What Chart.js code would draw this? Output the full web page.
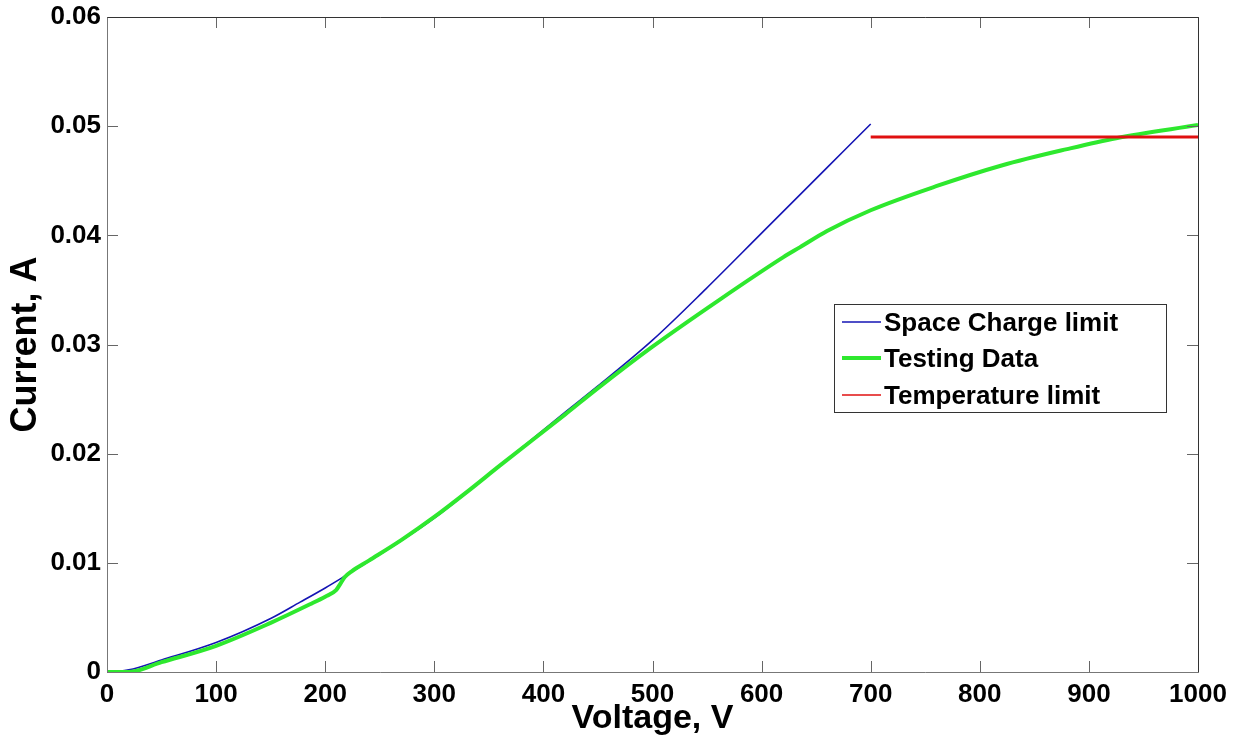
<!DOCTYPE html>
<html>
<head>
<meta charset="utf-8">
<title>Current vs Voltage</title>
<script src="https://cdn.jsdelivr.net/npm/chart.js@4.4.1/dist/chart.umd.min.js"></script>
<style>
  html, body { margin: 0; padding: 0; background: #fff; }
  canvas { display: block; }
</style>
</head>
<body>
<canvas id="ivChart" width="1238" height="742"></canvas>
<script>
// Space charge limited current (Child's law fit)
const voltageFit = [0, 20, 50, 100, 150, 177, 200, 215, 260, 300, 360, 420, 450, 500, 549, 600, 660, 700];
const currentFit = [0, 0.0002, 0.0011, 0.0027, 0.0049, 0.0064, 0.0077, 0.0086, 0.0114, 0.0141, 0.0189, 0.0238, 0.0262, 0.0304, 0.0351, 0.0402, 0.0462, 0.0502];

// measured current
const voltageTest = [0, 20, 50, 100, 150, 186, 200, 210, 214, 218, 224, 240, 270, 300, 330, 360, 420, 450, 500, 560, 620, 635, 660, 700, 760, 820, 880, 925, 1000];
const currentTest = [0, 0, 0.0009, 0.0024, 0.0045, 0.0062, 0.0069, 0.0075, 0.0081, 0.0087, 0.0092, 0.0102, 0.0121, 0.0142, 0.0165, 0.0189, 0.0236, 0.0260, 0.0298, 0.0340, 0.0380, 0.0389, 0.0404, 0.0423, 0.0445, 0.0464, 0.0479, 0.0489, 0.0501];

// emission (temperature) limit
const voltageTemp = [700, 1000];
const currentTemp = [0.049, 0.049];

const xTicks = [0, 100, 200, 300, 400, 500, 600, 700, 800, 900, 1000];
const yTicks = [0, 0.01, 0.02, 0.03, 0.04, 0.05, 0.06];

const FONT = '"Liberation Sans", Arial, sans-serif';

function toPoints(xs, ys) {
        return xs.map((x, i) => ({ x: x, y: ys[i] }));
}

// matlab style box with inward tick marks
const boxPlugin = {
        id: 'boxAxes',
        afterDatasetsDraw(chart) {
                const { ctx, chartArea: a, scales } = chart;
                const len = 11;
                ctx.save();
                ctx.lineWidth = 1;
                ctx.strokeStyle = '#666';
                xTicks.forEach(v => {
                        const px = Math.round(scales.x.getPixelForValue(v)) + 0.5;
                        ctx.beginPath();
                        ctx.moveTo(px, a.bottom); ctx.lineTo(px, a.bottom - len);
                        ctx.moveTo(px, a.top); ctx.lineTo(px, a.top + len);
                        ctx.stroke();
                });
                yTicks.forEach(v => {
                        const py = Math.round(scales.y.getPixelForValue(v)) + 0.5;
                        ctx.beginPath();
                        ctx.moveTo(a.left, py); ctx.lineTo(a.left + len, py);
                        ctx.moveTo(a.right, py); ctx.lineTo(a.right - len, py);
                        ctx.stroke();
                });
                const l = Math.round(a.left) + 0.5, r = Math.round(a.right) + 0.5;
                const t = Math.round(a.top) + 0.5, b = Math.round(a.bottom) + 0.5;
                ctx.strokeStyle = '#777';
                ctx.beginPath();
                ctx.moveTo(l, t); ctx.lineTo(l, b); ctx.lineTo(r, b);
                ctx.stroke();
                ctx.strokeStyle = '#333';
                ctx.beginPath();
                ctx.moveTo(l, t); ctx.lineTo(r, t); ctx.lineTo(r, b);
                ctx.stroke();
                ctx.restore();
        }
};

// boxed legend inside the plot, right side
const legendPlugin = {
        id: 'boxLegend',
        afterDraw(chart) {
                const ctx = chart.ctx;
                const bx = 834.5, by = 304.5, bw = 332, bh = 108;
                ctx.save();
                ctx.fillStyle = '#fff';
                ctx.fillRect(bx, by, bw, bh);
                ctx.strokeStyle = '#333';
                ctx.lineWidth = 1;
                ctx.strokeRect(bx, by, bw, bh);
                const rows = [322, 358, 395];
                const widths = [1.5, 4, 1.5];
                chart.data.datasets.forEach((ds, i) => {
                        const y = rows[i];
                        ctx.strokeStyle = ds.borderColor;
                        ctx.lineWidth = widths[i];
                        ctx.beginPath();
                        ctx.moveTo(842, y); ctx.lineTo(881, y);
                        ctx.stroke();
                        ctx.fillStyle = '#000';
                        ctx.font = 'bold 26px ' + FONT;
                        ctx.textBaseline = 'middle';
                        ctx.textAlign = 'left';
                        ctx.fillText(ds.label, 884, y + 2);
                });
                ctx.restore();
        }
};

document.addEventListener('DOMContentLoaded', () => {
        const ctx = document.getElementById('ivChart').getContext('2d');

        const data = {
                datasets: [{
                        label: 'Space Charge limit',
                        data: toPoints(voltageFit, currentFit),
                        borderColor: '#1414b4',
                        borderWidth: 1.6,
                        order: 3
                }, {
                        label: 'Testing Data',
                        data: toPoints(voltageTest, currentTest),
                        borderColor: '#2ee82e',
                        borderWidth: 4,
                        order: 2
                }, {
                        label: 'Temperature limit',
                        data: toPoints(voltageTemp, currentTemp),
                        borderColor: '#e01010',
                        borderWidth: 3,
                        order: 1
                }]
        };

        const config = {
                type: 'scatter',
                data: data,
                plugins: [boxPlugin, legendPlugin],
                options: {
                        responsive: false,
                        animation: false,
                        devicePixelRatio: 1,
                        layout: { padding: { top: 17, right: 40, left: 0, bottom: 0 } },
                        elements: {
                                point: { radius: 0, hoverRadius: 0 },
                                line: { cubicInterpolationMode: 'monotone', fill: false }
                        },
                        datasets: { scatter: { showLine: true } },
                        plugins: {
                                legend: { display: false },
                                tooltip: { enabled: false }
                        },
                        scales: {
                                x: {
                                        type: 'linear',
                                        min: 0,
                                        max: 1000,
                                        afterFit: (s) => {
                                                s.height = 70;
                                                s.paddingLeft = 0;
                                                s.paddingRight = 0;
                                        },
                                        afterBuildTicks: (s) => { s.ticks = xTicks.map(v => ({ value: v })); },
                                        grid: { display: false, drawTicks: false },
                                        border: { display: false },
                                        ticks: {
                                                autoSkip: false,
                                                maxRotation: 0,
                                                padding: 7,
                                                color: '#000',
                                                font: { family: FONT, size: 26, weight: 'bold' },
                                                callback: (v) => String(v)
                                        },
                                        title: {
                                                display: true,
                                                text: 'Voltage, V',
                                                color: '#000',
                                                padding: { top: 0, bottom: 3 },
                                                font: { family: FONT, size: 34, weight: 'bold' }
                                        }
                                },
                                y: {
                                        type: 'linear',
                                        min: 0,
                                        max: 0.06,
                                        afterFit: (s) => {
                                                s.width = 107;
                                                s.paddingTop = 0;
                                                s.paddingBottom = 0;
                                        },
                                        afterBuildTicks: (s) => { s.ticks = yTicks.map(v => ({ value: v })); },
                                        grid: { display: false, drawTicks: false },
                                        border: { display: false },
                                        ticks: {
                                                autoSkip: false,
                                                padding: 6,
                                                color: '#000',
                                                font: { family: FONT, size: 26, weight: 'bold' },
                                                callback: (v) => v === 0 ? '0' : v.toFixed(2)
                                        },
                                        title: {
                                                display: true,
                                                text: 'Current, A',
                                                color: '#000',
                                                padding: { top: 4, bottom: 0 },
                                                font: { family: FONT, size: 36, weight: 'bold' }
                                        }
                                }
                        }
                }
        };

        new Chart(ctx, config);
});
</script>
</body>
</html>
